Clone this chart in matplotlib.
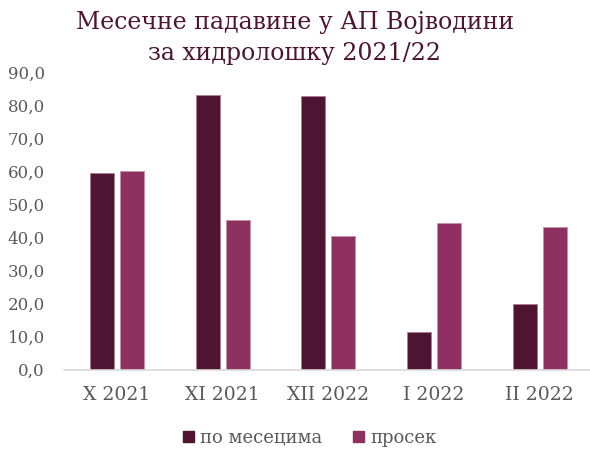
import matplotlib
matplotlib.use("Agg")
import matplotlib.pyplot as plt
import numpy as np
from matplotlib.patches import Patch

categories = ["X 2021", "XI 2021", "XII 2022", "I 2022", "II 2022"]
po_mesecima = [59.4, 82.9, 82.7, 11.2, 19.7]
prosek = [60.1, 45.1, 40.4, 44.2, 43.1]
series_names = ["по месецима", "просек"]
yticks = [0, 10, 20, 30, 40, 50, 60, 70, 80, 90]

dark = "#4E1532"
pink = "#8E3060"
gray_text = "#595959"

plt.rcParams['font.family'] = ['DejaVu Serif']

fig = plt.figure(figsize=(5.9, 4.5), dpi=100)
ax = fig.add_axes([64.25/590, 80.5/450, 528.4/590, 297.5/450])

x = np.arange(len(categories))
w = 0.227
off = 0.142
ax.bar(x - off, po_mesecima, width=w, color=dark, edgecolor="#B07A95", linewidth=0.6)
ax.bar(x + off, prosek, width=w, color=pink, edgecolor="#C890AE", linewidth=0.6)

ax.set_xlim(-0.5, len(categories) - 0.5)
ax.set_ylim(0, 90)
ax.set_yticks(yticks)
ax.set_yticklabels([f"{v:.1f}".replace(".", ",") for v in yticks], color=gray_text, fontsize=12)
ax.set_xticks(x)
ax.set_xticklabels(categories, color=gray_text, fontsize=13.5)
ax.tick_params(axis='both', length=0)
ax.tick_params(axis='y', pad=14)
ax.tick_params(axis='x', pad=12)
for s in ["top", "right", "left"]:
    ax.spines[s].set_visible(False)
ax.spines["bottom"].set_color("#D9D9D9")
ax.spines["bottom"].set_linewidth(1.2)

fig.text(0.5, 1 - 11/450, "Месечне падавине у АП Војводини\nза хидролошку 2021/22",
         ha="center", va="top", color=dark, fontsize=17, linespacing=1.45)

handles = [Patch(facecolor=dark, edgecolor=dark), Patch(facecolor=pink, edgecolor=pink)]
fig.legend(handles, series_names, loc="center", bbox_to_anchor=(0.525, 0.027), ncol=2,
           frameon=False, fontsize=13, labelcolor=gray_text, handlelength=0.6,
           handleheight=0.6, handletextpad=0.35, columnspacing=1.7)

fig.savefig("out.png", dpi=100)
